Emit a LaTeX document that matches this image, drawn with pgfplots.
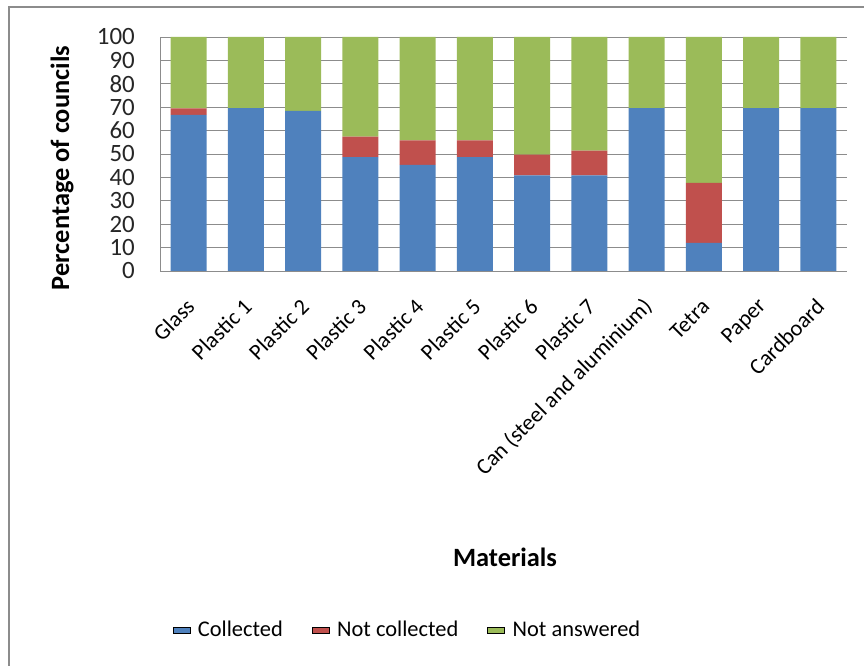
\documentclass[border=0pt]{standalone}
\usepackage{pgfplots}
\pgfplotsset{compat=1.18}
\usepackage{fontspec}
\setmainfont{Carlito}
\definecolor{cblue}{HTML}{4F81BD}
\definecolor{cred}{HTML}{C0504D}
\definecolor{cgreen}{HTML}{9BBB59}
\definecolor{cgrid}{HTML}{8C8C8C}
\pgfplotstableread{
x col notcol notans
0 66.7 2.8 30.5
1 69.6 0.0 30.4
2 68.4 0.0 31.6
3 48.7 8.7 42.6
4 45.3 10.5 44.2
5 48.7 7.1 44.2
6 40.9 8.8 50.3
7 40.9 10.5 48.6
8 69.6 0.0 30.4
9 12.0 25.7 62.3
10 69.6 0.0 30.4
11 69.6 0.0 30.4
}\datatable
\begin{document}
\begin{tikzpicture}[x=1bp,y=1bp]
\useasboundingbox (0,0) rectangle (864,666);
\draw[cgrid,line width=1.5bp] (9,0) -- (9,659) -- (864,659);
\begin{axis}[
  at={(160bp,395bp)}, anchor=south west,
  width=687bp, height=234bp, scale only axis,
  ybar stacked, bar width=0.63,
  xmin=-0.5, xmax=11.5, ymin=0, ymax=100,
  ytick={0,10,...,100},
  xtick=data,
  xticklabels={Glass,Plastic 1,Plastic 2,Plastic 3,Plastic 4,Plastic 5,Plastic 6,Plastic 7,Can (steel and aluminium),Tetra,Paper,Cardboard},
  axis x line*=bottom, axis y line*=left,
  axis line style={cgrid, line width=0.8bp, -},
  major tick length=0,
  ymajorgrids, grid style={cgrid, line width=0.8bp},
  /pgf/number format/assume math mode=true,
  yticklabel style={font=\fontsize{25}{28}\selectfont, color=black!85, inner sep=0bp, xshift=-25bp},
  xticklabel style={font=\fontsize{22.5}{25}\selectfont, color=black, xshift=2bp, yshift=-32bp, rotate=45, anchor=east, inner sep=0bp},
  legend style={at={(0.36,-1.534)}, anchor=center, draw=none, legend columns=3,
    font=\fontsize{22.5}{26}\selectfont,
    /tikz/every odd column/.append style={column sep=6bp},
    /tikz/every even column/.append style={column sep=27bp}},
  legend image code/.code={\fill[#1] (0bp,-6.5bp) rectangle (13bp,6.5bp);},
  area legend,
]
\addplot[fill=cblue, draw=none] table[x=x,y=col] {\datatable};
\addplot[fill=cred, draw=none] table[x=x,y=notcol] {\datatable};
\addplot[fill=cgreen, draw=none] table[x=x,y=notans] {\datatable};
\legend{Collected,Not collected,Not answered}
\end{axis}
\node[rotate=90, font=\fontsize{26.5}{30}\bfseries] at (62,498) {Percentage of councils};
\node[font=\fontsize{26.5}{30}\bfseries] at (505,109) {Materials};
\end{tikzpicture}
\end{document}
